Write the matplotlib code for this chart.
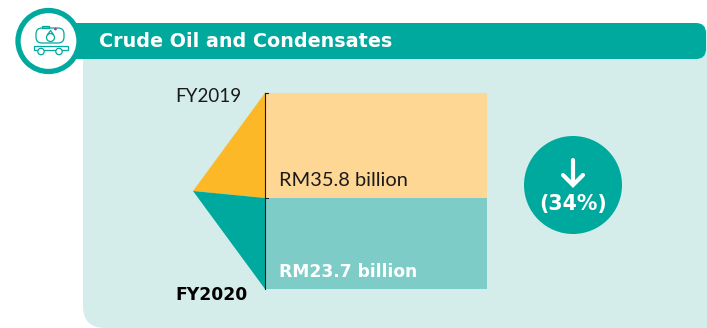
#!/usr/bin/env python3

import matplotlib
matplotlib.use('Agg')
import matplotlib.pyplot as plt
from matplotlib.patches import Circle, FancyBboxPatch, Polygon, Rectangle

# Values as printed on the chart
years = ['FY2019', 'FY2020']
values = [35.8, 23.7]
change_pct = -34
title = 'Crude Oil and Condensates'

# Bars are not to scale in the original, so heights are read off in pixels
bar_heights = [105, 91]

TEAL = '#00a99d'
PALE = '#d5edea'
LIGHT_TEAL = '#7dccc7'
PEACH = '#ffd795'
AMBER = '#fdb827'
INK = '#1a1a1a'

plt.rcParams['font.family'] = ['Lato', 'DejaVu Sans']
BOLD = ['DejaVu Sans']

fig = plt.figure(figsize=(7.07, 3.28), dpi=100)
ax = fig.add_axes([0, 0, 1, 1])
ax.set_xlim(0, 707)
ax.set_ylim(328, 0)
ax.axis('off')

# Panel with rounded bottom left corner
ax.add_patch(FancyBboxPatch((83, 30), 700, 298, boxstyle='round,pad=0,rounding_size=22',
                            fc=PALE, ec='none', zorder=1))
ax.add_patch(FancyBboxPatch((60, 23), 646, 36, boxstyle='round,pad=0,rounding_size=10',
                            fc=TEAL, ec='none', zorder=2))
ax.text(99, 41.5, title, color='white', fontsize=13.8, fontweight='bold', family=BOLD,
        va='center', ha='left', zorder=3)

# Icon badge
ax.add_patch(Circle((48.5, 41), 30.5, fc='white', ec=TEAL, lw=3.8, zorder=4))
ic = dict(fc='none', ec=TEAL, lw=0.9, zorder=5)
ax.add_patch(FancyBboxPatch((36, 28), 28, 15, boxstyle='round,pad=0,rounding_size=6', **ic))
ax.add_patch(Rectangle((42, 26), 7, 2, **ic))
ax.add_patch(Rectangle((33.5, 46), 34, 3.5, **ic))
ax.add_patch(Circle((41, 51.5), 3.2, fc='white', ec=TEAL, lw=0.9, zorder=6))
ax.add_patch(Circle((59, 51.5), 3.2, fc='white', ec=TEAL, lw=0.9, zorder=6))
ax.add_patch(Circle((50.5, 37.5), 4, **ic))
ax.add_patch(Polygon([(47.3, 35), (50.5, 30.5), (53.7, 35)], closed=False, **ic))
ax.add_patch(Circle((55.5, 29), 1.4, fc='#8e44ad', ec='none', zorder=6))

# Stacked bars
x0, bar_w = 265, 222
top = 93
ax.bar(x0, bar_heights[0], bar_w, bottom=top, align='edge', color=PEACH, zorder=3)
ax.bar(x0, bar_heights[1], bar_w, bottom=top + bar_heights[0], align='edge', color=LIGHT_TEAL, zorder=3)

# Funnel triangles pointing left
mid = top + bar_heights[0]
bot = mid + bar_heights[1]
apex = (193, 191)
ax.add_patch(Polygon([apex, (x0, top), (x0, mid)], fc=AMBER, ec='none', zorder=3))
ax.add_patch(Polygon([apex, (x0, mid), (x0, bot)], fc=TEAL, ec='none', zorder=3))

# Axis line with small ticks
ax.plot([x0, x0], [top, bot], color=INK, lw=0.8, zorder=4)
ax.plot([x0, x0 + 2.5], [top, top], color=INK, lw=0.8, zorder=4)
ax.plot([x0, x0 + 2.5], [mid, mid], color=INK, lw=0.7, zorder=4)

ax.text(175, 96, years[0], color=INK, fontsize=13.5, va='center', ha='left', zorder=5)
ax.text(175, 295.5, years[1], color='black', fontsize=12.3, fontweight='bold', family=BOLD,
        va='center', ha='left', zorder=5)
ax.text(279, 180.5, f'RM{values[0]} billion', color=INK, fontsize=14.4, va='center', ha='left', zorder=5)
ax.text(279, 272, f'RM{values[1]} billion', color='white', fontsize=12.3, fontweight='bold', family=BOLD,
        va='center', ha='left', zorder=5)

# Change badge
ax.add_patch(Circle((573, 185), 49, fc=TEAL, ec='none', zorder=3))
ax.plot([573, 573], [160, 184], color='white', lw=3, solid_capstyle='round', zorder=4)
ax.plot([563, 573, 583], [175, 185, 175], color='white', lw=3, solid_capstyle='round',
        solid_joinstyle='miter', zorder=4)
ax.text(573, 204, f'({abs(change_pct)}%)', color='white', fontsize=14.8, fontweight='bold', family=BOLD,
        va='center', ha='center', zorder=4)

fig.savefig('out.png', dpi=100)
plt.close(fig)
